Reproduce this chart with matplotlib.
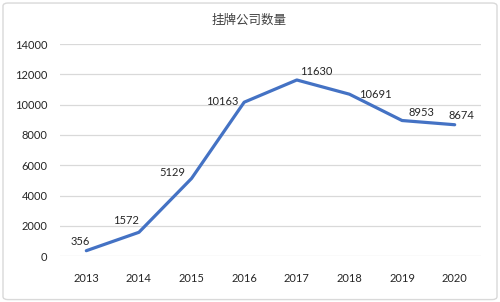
import matplotlib
matplotlib.use("Agg")
import matplotlib.pyplot as plt
from matplotlib.patches import FancyBboxPatch

years = ["2013", "2014", "2015", "2016", "2017", "2018", "2019", "2020"]
counts = [356, 1572, 5129, 10163, 11630, 10691, 8953, 8674]
title = "挂牌公司数量"
yticks = [0, 2000, 4000, 6000, 8000, 10000, 12000, 14000]
# label offsets in points (dx, dy) relative to each point
label_offsets = [(-4, 6.5), (-9, 8.5), (-14, 4.5), (-16, 0.5), (14, 6), (19, 0), (14, 5.5), (5, 6.5)]

plt.rcParams['font.family'] = ['Lato', 'DejaVu Sans']
txt = '#262626'

fig = plt.figure(figsize=(5.0, 3.02), dpi=100)
fig.patches.append(FancyBboxPatch((0.006, 0.008), 0.988, 0.982, boxstyle="round,pad=0,rounding_size=0.01",
                                  transform=fig.transFigure, facecolor='white', edgecolor='#d9d9d9',
                                  linewidth=1.0, zorder=-1))
ax = fig.add_axes([0.12, 0.152, 0.842, 0.702])
ax.set_facecolor('none')
x = list(range(len(years)))
ax.plot(x, counts, color='#4472C4', linewidth=2.3, solid_capstyle='round', zorder=3)
for xi, v, (dx, dy) in zip(x, counts, label_offsets):
    ax.annotate(str(v), (xi, v), xytext=(dx, dy), textcoords='offset points',
                ha='center', va='center', fontsize=8, color=txt, zorder=4)

ax.set_xlim(-0.5, len(years) - 0.5)
ax.set_ylim(0, 14000)
ax.set_yticks(yticks)
ax.set_yticklabels([str(t) for t in yticks])
ax.set_xticks(x)
ax.set_xticklabels(years)
ax.grid(axis='y', color='#d9d9d9', linewidth=0.9)
ax.set_axisbelow(True)
for s in ax.spines.values():
    s.set_visible(False)
ax.tick_params(axis='both', length=0, labelsize=8, labelcolor=txt)
ax.tick_params(axis='x', pad=12)
ax.tick_params(axis='y', pad=9)

fig.text(0.498, 0.934, title, ha='center', va='center', fontsize=9, color='#404040',
         family=['Noto Sans CJK SC', 'DejaVu Sans'])

fig.savefig('out.png', dpi=100)
